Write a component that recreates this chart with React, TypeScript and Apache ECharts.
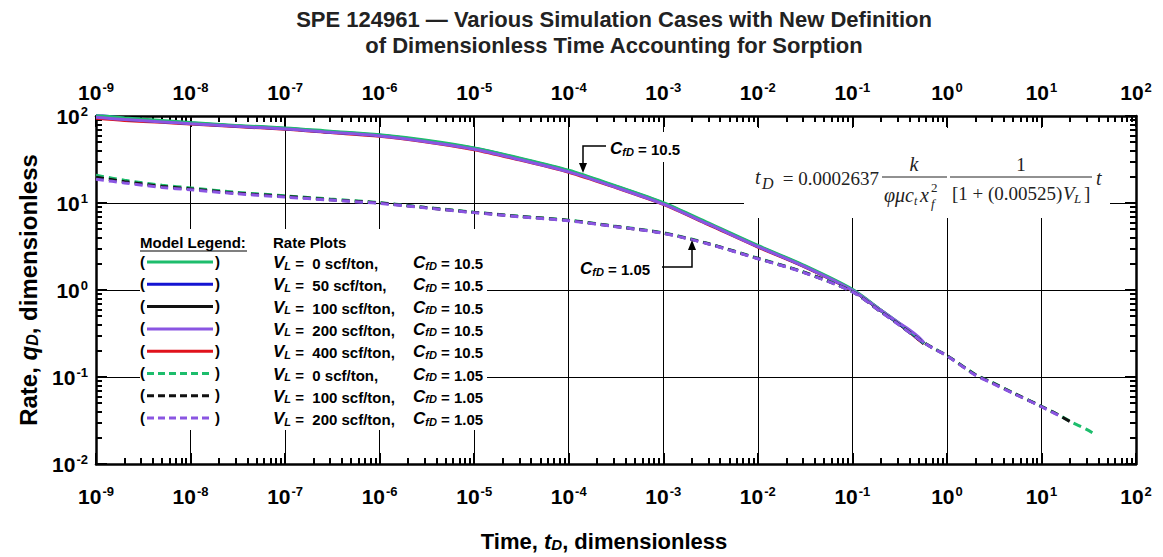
import React, { useEffect, useRef } from "react";
import * as echarts from "echarts";

// ---------- DATA ----------
// C_fD = 10.5 (solid) time samples
const tSolid = [1e-9, 2e-9, 5e-9, 1e-8, 3e-8, 1e-7, 3e-7, 1e-6, 3e-6, 1e-5, 3e-5, 1e-4, 3e-4, 1e-3, 3e-3, 1e-2, 3e-2, 1e-1, 2e-1, 3e-1, 4e-1, 5e-1, 5.7e-1];
const qSolidVL0 = [102, 95, 88.5, 84, 78, 73, 67, 61, 53, 43, 33, 23.8, 16, 10.1, 5.9, 3.25, 1.95, 1.02, 0.59, 0.43, 0.34, 0.28, 0.245];
const qSolidVL50 = [104, 94, 87, 83, 77, 72, 66, 60, 52, 42.5, 32.5, 23.4, 15.8, 9.95, 5.8, 3.2, 1.92, 1.0, 0.58, 0.42, 0.335, 0.275, 0.243];
const qSolidVL100 = [100, 92, 86, 82, 76.5, 71.5, 65.5, 59.5, 51.5, 42, 32, 23.1, 15.6, 9.85, 5.75, 3.18, 1.9, 0.99, 0.58, 0.42, 0.333, 0.273, 0.242];
const qSolidVL200 = [97, 91, 85.5, 81.5, 76, 71, 65, 59, 51, 41.5, 31.6, 22.8, 15.4, 9.7, 5.7, 3.15, 1.89, 0.99, 0.585, 0.43, 0.35, 0.29, 0.25];
const qSolidVL400 = [94, 89, 84.5, 81, 75.5, 70.5, 64.5, 58.5, 50.5, 41, 31.3, 22.6, 15.3, 9.65, 5.65, 3.12, 1.88, 0.985, 0.58, 0.42, 0.33, 0.27, 0.24];

// C_fD = 1.05 (dashed) time samples
const tDashed = [1e-9, 2e-9, 5e-9, 1e-8, 3e-8, 1e-7, 3e-7, 1e-6, 3e-6, 1e-5, 3e-5, 1e-4, 3e-4, 1e-3, 3e-3, 1e-2, 3e-2, 1e-1, 2e-1, 3e-1, 5e-1, 7e-1, 1, 2, 3, 5, 10, 15, 20, 30, 38];
const qDashedVL0 = [20.8, 18.3, 16.0, 14.9, 13.3, 12.1, 11.1, 10.1, 8.95, 7.85, 7.05, 6.35, 5.45, 4.55, 3.42, 2.32, 1.62, 0.96, 0.565, 0.415, 0.275, 0.218, 0.177, 0.107, 0.087, 0.066, 0.046, 0.037, 0.031, 0.025, 0.0215];
const qDashedVL100 = [19.8, 17.6, 15.5, 14.5, 13.0, 11.9, 10.9, 10.0, 8.85, 7.8, 7.0, 6.3, 5.4, 4.5, 3.4, 2.3, 1.61, 0.955, 0.563, 0.413, 0.274, 0.217, 0.176, 0.106, 0.086, 0.0655, 0.0458, 0.0368, 0.0308];
const qDashedVL200 = [18.8, 17.0, 15.1, 14.2, 12.8, 11.7, 10.8, 9.9, 8.8, 7.75, 6.95, 6.25, 5.38, 4.48, 3.38, 2.29, 1.6, 0.95, 0.56, 0.41, 0.273, 0.216, 0.175, 0.105, 0.085, 0.065, 0.0455, 0.0365];

const GREEN = "#1dbd6c";
const BLUE = "#1414d2";
const BLACK = "#111111";
const PURPLE = "#8a55e2";
const RED = "#e0121c";

const legendRows = [
  { vl: "0 scf/ton,", cfd: "10.5", color: GREEN, dashed: false },
  { vl: "50 scf/ton,", cfd: "10.5", color: BLUE, dashed: false },
  { vl: "100 scf/ton,", cfd: "10.5", color: BLACK, dashed: false },
  { vl: "200 scf/ton,", cfd: "10.5", color: PURPLE, dashed: false },
  { vl: "400 scf/ton,", cfd: "10.5", color: RED, dashed: false },
  { vl: "0 scf/ton,", cfd: "1.05", color: GREEN, dashed: true },
  { vl: "100 scf/ton,", cfd: "1.05", color: BLACK, dashed: true },
  { vl: "200 scf/ton,", cfd: "1.05", color: PURPLE, dashed: true },
];

const TITLE_LINES = [
  "SPE 124961 \u2014 Various Simulation Cases with New Definition",
  "of Dimensionless Time Accounting for Sorption",
];

// ---------- STYLE ----------
const SANS = '"Liberation Sans", Arial, sans-serif';
const SERIF = '"Liberation Serif", "Times New Roman", serif';

const pairs = (t: number[], q: number[]) => q.map((v, i) => [t[i], v]);

const expLabel = (v: number) => {
  const e = Math.round(Math.log10(v));
  return `{b|10}{s|${e}}`;
};
const axisRich = {
  b: { fontFamily: SANS, fontWeight: "bold", fontSize: 21, color: "#000", lineHeight: 22, verticalAlign: "bottom" },
  s: { fontFamily: SANS, fontWeight: "bold", fontSize: 13, color: "#000", lineHeight: 13, verticalAlign: "top", padding: [0, 0, 0, 1] },
};

const baseAxis = (position: string, showLabel: boolean, showSplit: boolean, margin: number) => ({
  type: "log",
  logBase: 10,
  position,
  interval: 1,
  axisLine: { show: true, lineStyle: { color: "#000", width: 2.5 } },
  axisTick: { show: true, inside: true, length: 11, lineStyle: { color: "#000", width: 2 } },
  minorTick: { show: true, splitNumber: 9, length: 6, lineStyle: { color: "#000", width: 2 } },
  splitLine: { show: showSplit, lineStyle: { color: "#000", width: 1 } },
  minorSplitLine: { show: false },
  axisLabel: { show: showLabel, formatter: expLabel, rich: axisRich, margin },
});

const solid = (name: string, q: number[], color: string) => ({
  name,
  type: "line",
  data: pairs(tSolid, q),
  showSymbol: false,
  symbol: "none",
  smooth: 0.3,
  lineStyle: { color, width: 3, type: "solid" },
  z: 3,
});
const dashed = (name: string, q: number[], color: string) => ({
  name,
  type: "line",
  data: pairs(tDashed, q),
  showSymbol: false,
  symbol: "none",
  smooth: 0.3,
  lineStyle: { color, width: 3, type: [8, 5] },
  z: 4,
});

function buildGraphic() {
  const els: any[] = [];
  // white boxes that interrupt the grid
  els.push({ type: "rect", z: 1, shape: { x: 140, y: 229, width: 347, height: 201 }, style: { fill: "#fff" } });
  els.push({ type: "rect", z: 1, shape: { x: 744, y: 128, width: 366, height: 90 }, style: { fill: "#fff" } });
  els.push({ type: "rect", z: 1, shape: { x: 604, y: 132, width: 92, height: 30 }, style: { fill: "#fff" } });

  const bold15 = { fontFamily: SANS, fontWeight: "bold", fontSize: 15, color: "#000" };
  const legRich = {
    n: { ...bold15, lineHeight: 18, verticalAlign: "bottom" },
    i: { ...bold15, fontStyle: "italic", fontSize: 17, lineHeight: 18, verticalAlign: "bottom" },
    sb: { ...bold15, fontStyle: "italic", fontSize: 11, lineHeight: 9, verticalAlign: "bottom" },
  };

  // legend headers
  els.push({
    type: "text", z: 10, x: 140, y: 242,
    style: { text: "Model Legend:", fontFamily: SANS, fontWeight: "bold", fontSize: 15, fill: "#000", textVerticalAlign: "middle" },
  });
  els.push({ type: "line", z: 10, shape: { x1: 140, y1: 251, x2: 247, y2: 251 }, style: { stroke: "#000", lineWidth: 1.2 } });
  els.push({
    type: "text", z: 10, x: 273, y: 242,
    style: { text: "Rate Plots", fontFamily: SANS, fontWeight: "bold", fontSize: 15, fill: "#000", textVerticalAlign: "middle" },
  });

  legendRows.forEach((r, k) => {
    const y = 261 + k * 22.3;
    els.push({ type: "text", z: 10, x: 140, y, style: { text: "(", fontFamily: SANS, fontWeight: "bold", fontSize: 15, fill: "#000", textVerticalAlign: "middle" } });
    els.push({ type: "text", z: 10, x: 215, y, style: { text: ")", fontFamily: SANS, fontWeight: "bold", fontSize: 15, fill: "#000", textVerticalAlign: "middle" } });
    els.push({
      type: "line", z: 10, shape: { x1: 147, y1: y + 1, x2: r.dashed ? 211 : 213, y2: y + 1 },
      style: { stroke: r.color, lineWidth: 3, lineDash: r.dashed ? [7, 4] : null },
    });
    els.push({
      type: "text", z: 10, x: 273, y: y + 1,
      style: { text: `{i|V}{sb|L}{n| =  ${r.vl}}`, rich: legRich, textVerticalAlign: "middle" },
    });
    els.push({
      type: "text", z: 10, x: 413, y: y + 1,
      style: { text: `{i|C}{sb|fD}{n| = ${r.cfd}}`, rich: legRich, textVerticalAlign: "middle" },
    });
  });

  // annotations
  els.push({ type: "text", z: 10, x: 610, y: 148, style: { text: "{i|C}{sb|fD}{n| = 10.5}", rich: legRich, textVerticalAlign: "middle" } });
  els.push({ type: "polyline", z: 10, shape: { points: [[606, 146], [583, 146], [583, 164]] }, style: { stroke: "#000", lineWidth: 1.5, fill: null } });
  els.push({ type: "polygon", z: 10, shape: { points: [[579, 163], [587, 163], [583, 173]] }, style: { fill: "#000" } });

  els.push({ type: "text", z: 10, x: 580, y: 268, style: { text: "{i|C}{sb|fD}{n| = 1.05}", rich: legRich, textVerticalAlign: "middle" } });
  els.push({ type: "polyline", z: 10, shape: { points: [[662, 267], [692, 267], [692, 249]] }, style: { stroke: "#000", lineWidth: 1.5, fill: null } });
  els.push({ type: "polygon", z: 10, shape: { points: [[688, 250], [696, 250], [692, 240]] }, style: { fill: "#000" } });

  // formula (Times-like)
  const ink = "#222";
  const T = (text: string, x: number, y: number, size: number, italic: boolean, align = "left") => ({
    type: "text", z: 10, x, y,
    style: { text, fontFamily: SERIF, fontSize: size, fontStyle: italic ? "italic" : "normal", fill: ink, textAlign: align, textVerticalAlign: "middle" },
  });
  els.push(T("t", 755, 177, 20, true));
  els.push(T("D", 762, 183, 16, true));
  els.push(T("= 0.0002637", 879, 178, 19, false, "right"));
  els.push({ type: "line", z: 10, shape: { x1: 882, y1: 177, x2: 947, y2: 177 }, style: { stroke: ink, lineWidth: 1 } });
  els.push(T("k", 914, 164, 20, true, "center"));
  els.push(T("\u03c6\u03bcc", 884, 195, 20, true));
  els.push(T("t", 914, 201, 12, true));
  els.push(T("x", 920, 195, 20, true));
  els.push(T("2", 931, 187, 13, false));
  els.push(T("f", 931, 203, 13, true));
  els.push({ type: "line", z: 10, shape: { x1: 950, y1: 177, x2: 1092, y2: 177 }, style: { stroke: ink, lineWidth: 1 } });
  els.push(T("1", 1021, 164, 19, false, "center"));
  els.push(T("[1 + (0.00525)", 952, 193, 19, false));
  els.push(T("V", 1063, 193, 19, true));
  els.push(T("L", 1074, 198, 13, true));
  els.push(T("]", 1084, 193, 19, false));
  els.push(T("t", 1096, 178, 20, true));

  // axis titles
  const tRich = {
    n: { fontFamily: SANS, fontWeight: "bold", fontSize: 24, color: "#000", lineHeight: 26, verticalAlign: "bottom" },
    i: { fontFamily: SANS, fontWeight: "bold", fontStyle: "italic", fontSize: 24, color: "#000", lineHeight: 26, verticalAlign: "bottom" },
    sb: { fontFamily: SANS, fontWeight: "bold", fontStyle: "italic", fontSize: 16, color: "#000", lineHeight: 13, verticalAlign: "bottom" },
  };
  els.push({
    type: "text", z: 10, x: 27, y: 290, rotation: Math.PI / 2,
    style: { text: "{n|Rate, }{i|q}{sb|D}{n|, dimensionless}", rich: tRich, textAlign: "center", textVerticalAlign: "middle" },
  });
  const xRich = {
    n: { fontFamily: SANS, fontWeight: "bold", fontSize: 22, color: "#000", lineHeight: 24, verticalAlign: "bottom" },
    i: { fontFamily: SANS, fontWeight: "bold", fontStyle: "italic", fontSize: 22, color: "#000", lineHeight: 24, verticalAlign: "bottom" },
    sb: { fontFamily: SANS, fontWeight: "bold", fontStyle: "italic", fontSize: 15, color: "#000", lineHeight: 12, verticalAlign: "bottom" },
  };
  els.push({
    type: "text", z: 10, x: 604, y: 540,
    style: { text: "{n|Time, }{i|t}{sb|D}{n|, dimensionless}", rich: xRich, textAlign: "center", textVerticalAlign: "middle" },
  });
  return els;
}

export default function App() {
  const ref = useRef<HTMLDivElement>(null);
  useEffect(() => {
    if (!ref.current) return;
    const chart = echarts.init(ref.current, null, { renderer: "svg" });
    chart.setOption({
      animation: false,
      backgroundColor: "#fff",
      title: {
        text: TITLE_LINES.join("\n"),
        left: 609,
        top: 1,
        textAlign: "center",
        textStyle: { fontFamily: SANS, fontWeight: "bold", fontSize: 22, lineHeight: 26, color: "#222" },
      },
      grid: { left: 96, right: 27, top: 116, bottom: 93, containLabel: false },
      xAxis: [
        { ...baseAxis("bottom", true, true, 21), min: 1e-9, max: 100 },
        { ...baseAxis("top", true, false, 13), min: 1e-9, max: 100 },
      ],
      yAxis: [
        { ...baseAxis("left", true, true, 8), min: 0.01, max: 100 },
        { ...baseAxis("right", false, false, 8), min: 0.01, max: 100 },
      ],
      series: [
        solid("VL=400, CfD=10.5", qSolidVL400, RED),
        solid("VL=100, CfD=10.5", qSolidVL100, BLACK),
        solid("VL=50, CfD=10.5", qSolidVL50, BLUE),
        solid("VL=0, CfD=10.5", qSolidVL0, GREEN),
        solid("VL=200, CfD=10.5", qSolidVL200, PURPLE),
        dashed("VL=0, CfD=1.05", qDashedVL0, GREEN),
        dashed("VL=100, CfD=1.05", qDashedVL100, BLACK),
        dashed("VL=200, CfD=1.05", qDashedVL200, PURPLE),
      ],
      graphic: buildGraphic(),
    });
    return () => chart.dispose();
  }, []);
  return <div ref={ref} style={{ position: "fixed", left: 0, top: 0, width: 1163, height: 557 }} />;
}
